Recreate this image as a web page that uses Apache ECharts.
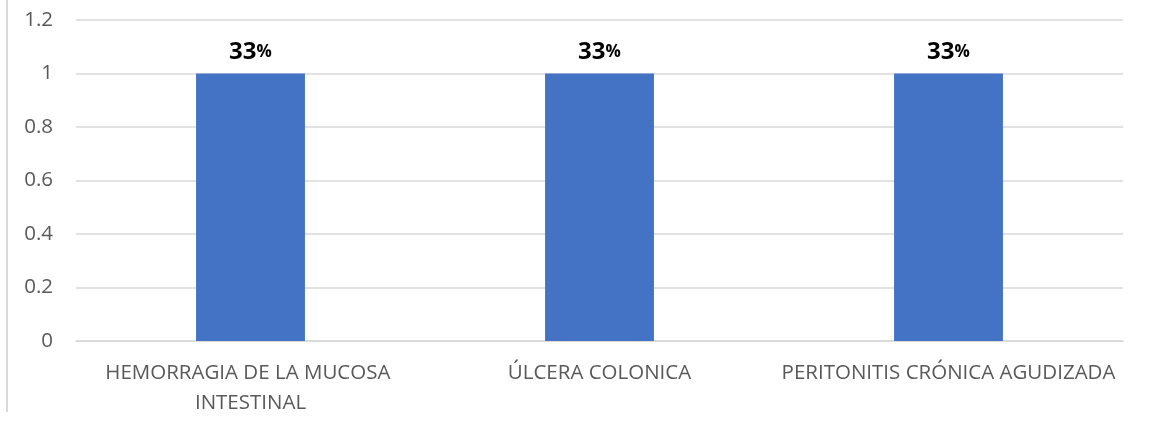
<!DOCTYPE html>
<html><head><meta charset="utf-8">
<script src="https://cdn.jsdelivr.net/npm/echarts@6/dist/echarts.min.js"></script>
<style>html,body{margin:0;padding:0;background:#fff}#c{width:1149px;height:429px}</style>
</head><body><div id="c"></div>
<script>
const categories = ['HEMORRAGIA DE LA MUCOSA INTESTINAL', 'ÚLCERA COLONICA', 'PERITONITIS CRÓNICA AGUDIZADA'];
const values = [1, 1, 1];
const pctLabels = ['33', '33', '33'];
const chart = echarts.init(document.getElementById('c'));
chart.setOption({
  animation: false,
  grid: {left: 76, right: 26, top: 20, bottom: 88, containLabel: false},
  graphic: [{type: 'line', shape: {x1: 7, y1: 0, x2: 7, y2: 412}, style: {stroke: '#d9d9d9', lineWidth: 2}}],
  xAxis: {
    type: 'category', data: categories,
    axisLine: {show: true, lineStyle: {color: '#d9d9d9', width: 1.5}},
    axisTick: {show: false},
    axisLabel: {interval: 0, color: '#595959', fontFamily: 'Open Sans', fontSize: 20.5, margin: 17, lineHeight: 30, width: 348, overflow: 'break'}
  },
  yAxis: {
    type: 'value', min: 0, max: 1.2, interval: 0.2,
    axisLine: {show: false}, axisTick: {show: false},
    splitLine: {lineStyle: {color: '#d9d9d9', width: 1.5}},
    axisLabel: {color: '#595959', fontFamily: 'Open Sans', fontSize: 20.5, margin: 23,
      formatter: v => String(Math.round(v * 10) / 10)}
  },
  series: [{
    type: 'bar', data: values, barWidth: '31.2%',
    itemStyle: {color: '#4472c4'},
    label: {show: true, position: 'top', distance: 9,
      formatter: p => '{a|' + pctLabels[p.dataIndex] + '}{b|%}',
      rich: {a: {fontFamily: 'Open Sans', fontWeight: 'bold', fontSize: 24, color: '#000'},
             b: {fontFamily: 'Open Sans', fontWeight: 'bold', fontSize: 17, color: '#000'}}}
  }]
});
</script></body></html>
